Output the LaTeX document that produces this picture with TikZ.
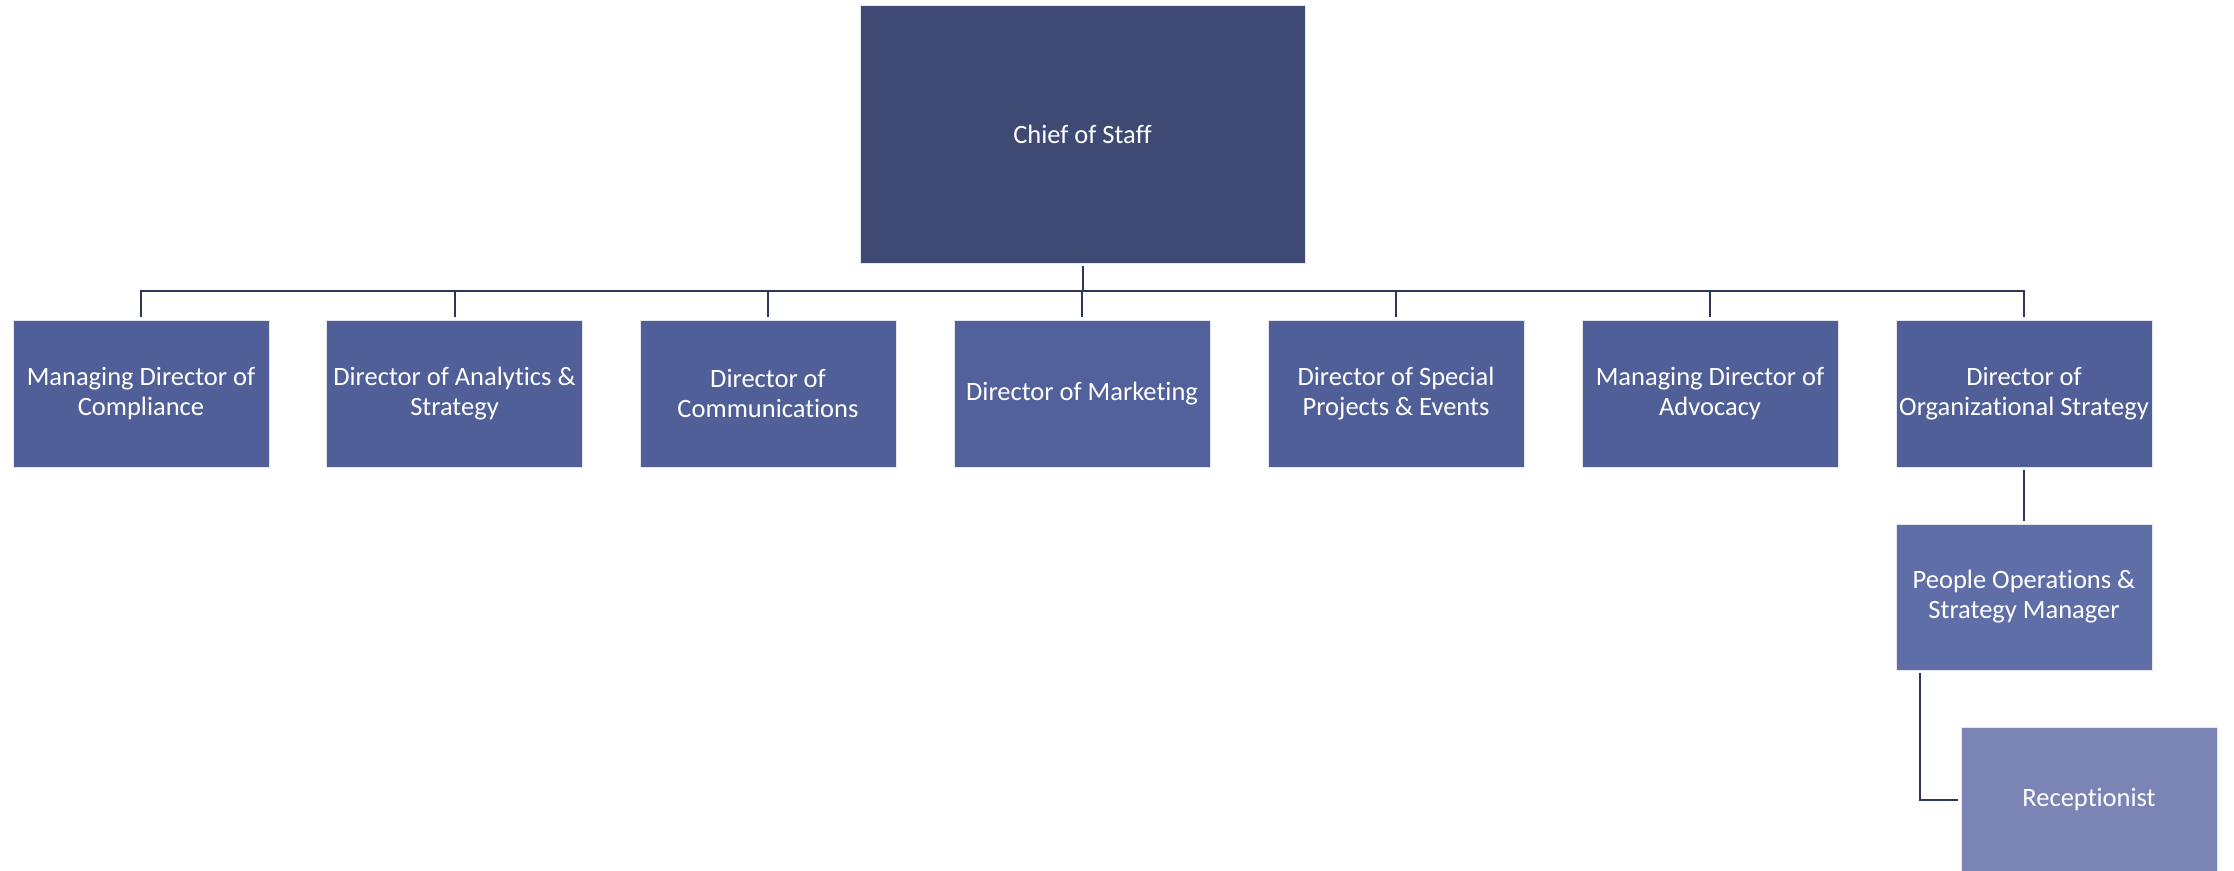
\documentclass[tikz,border=0pt]{standalone}
\usepackage{fontspec}
\setmainfont[Ligatures={NoCommon}]{Carlito}
\definecolor{cchief}{RGB}{62,74,115}
\definecolor{cdir}{RGB}{80,95,151}
\definecolor{cmkt}{RGB}{82,97,155}
\definecolor{cppl}{RGB}{96,110,168}
\definecolor{crec}{RGB}{122,133,181}
\definecolor{cline}{RGB}{44,55,90}
\begin{document}
\begin{tikzpicture}[x=1pt,y=-1pt,
  box/.style={rectangle, draw=white!85!cdir, line width=0.6pt, text=white, align=center,
    minimum width=256pt, minimum height=147pt, inner sep=0pt,
    font=\fontsize{26.5}{30}\selectfont},
  conn/.style={draw=cline, line width=2pt, shorten >=3pt, shorten <=3pt}]
\useasboundingbox (0,0) rectangle (2234,870);
\node[box, fill=cchief, minimum width=445pt, minimum height=258pt] (chief) at (1082.5,134) {Chief of Staff};
\node[box, fill=cdir] (c1) at (141,393.5) {Managing Director of\\Compliance};
\node[box, fill=cdir] (c2) at (454.5,393.5) {Director of Analytics \&\\Strategy};
\node[box, fill=cdir] (c3) at (768,393.5) {Director of\\Communications};
\node[box, fill=cmkt] (c4) at (1082,393.5) {Director of Marketing};
\node[box, fill=cdir] (c5) at (1396,393.5) {Director of Special\\Projects \& Events};
\node[box, fill=cdir] (c6) at (1710,393.5) {Managing Director of\\Advocacy};
\node[box, fill=cdir] (c7) at (2024,393.5) {Director of\\Organizational Strategy};
\node[box, fill=cppl, minimum height=146pt] (ppl) at (2024,597) {People Operations \&\\Strategy Manager};
\node[box, fill=crec, minimum height=146pt] (rec) at (2089,800) {Receptionist};
\coordinate (bar) at (1082.5,291);
\draw[conn, shorten >=0pt] (chief.south) -- (bar);
\foreach \c in {c1,c2,c3,c4,c5,c6,c7}{
  \draw[conn, shorten <=0pt] (bar) -| (\c.north);
}
\draw[conn] (c7.south) -- (ppl.north);
\draw[conn] ([xshift=24pt]ppl.south west) |- (rec.west);
\end{tikzpicture}
\end{document}
